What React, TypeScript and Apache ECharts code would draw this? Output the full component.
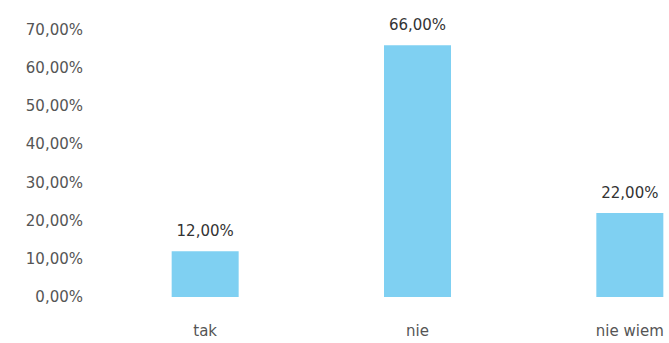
import React, { useEffect, useRef } from "react";
import * as echarts from "echarts";

const categories = ["tak", "nie", "nie wiem"];
const values = [12, 66, 22];
const yTicks = [0, 10, 20, 30, 40, 50, 60, 70];

const fmt = (v: number) => v.toFixed(2).replace(".", ",") + "%";

export default function App() {
  const ref = useRef<HTMLDivElement>(null);
  useEffect(() => {
    if (!ref.current) return;
    const chart = echarts.init(ref.current, null, { renderer: "svg" });
    chart.setOption({
      animation: false,
      backgroundColor: "#ffffff",
      grid: { left: 99, right: 0, top: 30, bottom: 46 },
      xAxis: {
        type: "category",
        data: categories,
        axisLine: { show: false },
        axisTick: { show: false },
        axisLabel: {
          color: "#555",
          fontFamily: "DejaVu Sans",
          fontSize: 15,
          margin: 26,
        },
      },
      yAxis: {
        type: "value",
        min: yTicks[0],
        max: yTicks[yTicks.length - 1],
        interval: 10,
        splitLine: { show: false },
        axisLine: { show: false },
        axisTick: { show: false },
        axisLabel: {
          color: "#555",
          fontFamily: "DejaVu Sans",
          fontSize: 15,
          margin: 16,
          formatter: (v: number) => fmt(v),
        },
      },
      series: [
        {
          type: "bar",
          data: values,
          barWidth: 67,
          itemStyle: { color: "#7fd0f2" },
          label: {
            show: true,
            position: "top",
            distance: 13,
            color: "#333",
            fontFamily: "DejaVu Sans",
            fontSize: 15,
            formatter: (p: any) => fmt(p.value),
          },
        },
      ],
    });
    return () => chart.dispose();
  }, []);
  return (
    <div style={{ position: "absolute", left: 0, top: 0, width: 669, height: 343, overflow: "hidden", background: "#fff" }}>
      <div ref={ref} style={{ width: 736, height: 343 }} />
    </div>
  );
}
